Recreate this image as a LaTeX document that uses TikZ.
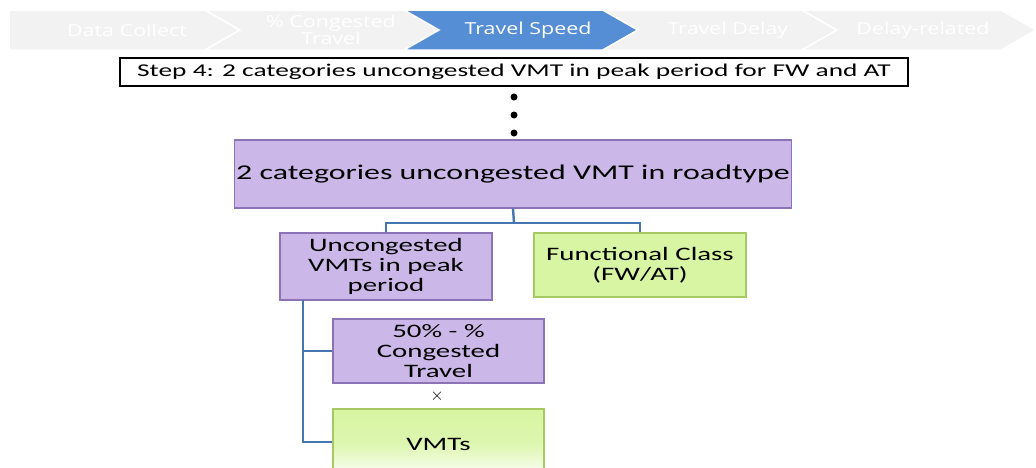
\documentclass[tikz,border=0pt]{standalone}
\usepackage{fontspec}
\setmainfont{Carlito}[FakeStretch=1.52]
\newfontfamily\chevfont{Open Sans}[FakeStretch=1.3]
\definecolor{chevgray}{HTML}{F2F2F2}
\definecolor{chevblue}{HTML}{558ED5}
\definecolor{purfill}{RGB}{203,184,232}
\definecolor{purline}{RGB}{139,115,181}
\definecolor{grnfill}{RGB}{215,245,162}
\definecolor{grnline}{RGB}{166,201,100}
\definecolor{conn}{RGB}{70,118,178}
\tikzset{
  chevtext/.style={font=\chevfont\fontsize{16.5}{17}\selectfont, text=white, align=center, inner sep=0pt},
  chevshape/.style={draw=white, line width=1.5pt, line join=miter},
  boxfont/.style={font=\fontsize{19}{20}\selectfont},
  purbox/.style={draw=purline, line width=1.2pt, fill=purfill, align=center, inner sep=2pt, boxfont},
  grnbox/.style={draw=grnline, line width=1.2pt, fill=grnfill, align=center, inner sep=2pt, boxfont},
  conline/.style={draw=conn, line width=2.4pt},
  dotnode/.style={circle, fill=black, inner sep=0pt, minimum size=7pt},
}
\begin{document}
\begin{tikzpicture}[x=1pt,y=-1pt]
\clip (0,0) rectangle (1036,467);
\fill[white] (0,0) rectangle (1036,467);
% chevrons
\path[chevshape, fill=chevgray] (9,10) -- (205,10) -- (240,30) -- (205,50) -- (9,50) -- cycle;
\path[chevshape, fill=chevgray] (205,10) -- (404,10) -- (439,30) -- (404,50) -- (205,50) -- (240,30) -- cycle;
\path[chevshape, fill=chevblue] (404,10) -- (603,10) -- (638,30) -- (603,50) -- (404,50) -- (439,30) -- cycle;
\path[chevshape, fill=chevgray] (603,10) -- (802,10) -- (837,30) -- (802,50) -- (603,50) -- (638,30) -- cycle;
\path[chevshape, fill=chevgray] (802,10) -- (1001,10) -- (1036,30) -- (1001,50) -- (802,50) -- (837,30) -- cycle;
\node[chevtext] (c1) at (127,30) {Data Collect};
\node[chevtext] (c2) at (331,30) {\% Congested\\Travel};
\node[chevtext] (c3) at (528,30) {Travel Speed};
\node[chevtext] (c4) at (728,30) {Travel Delay};
\node[chevtext] (c5) at (923,30) {Delay-related};
% step box
\node[draw=black, line width=1.6pt, fill=white, minimum width=788pt, minimum height=28pt, inner sep=0pt,
      font=\fontsize{18}{20}\selectfont] (step) at (514,72) {Step 4: 2 categories uncongested VMT in peak period for FW and AT};
% dots
\node[dotnode] (d1) at (514,97) {};
\node[dotnode] (d2) at (514,115) {};
\node[dotnode] (d3) at (514,133) {};
% main box
\node[purbox, minimum width=554pt, minimum height=68pt, font=\fontsize{21}{24}\selectfont] (main) at (513,174) {2 categories uncongested VMT in roadtype};
% second level
\node[purbox, minimum width=212pt, minimum height=67pt] (left) at (386,266.5) {Uncongested\\VMTs in peak\\period};
\node[grnbox, minimum width=212pt, minimum height=64pt] (right) at (640,265) {Functional Class\\(FW/AT)};
% third level
\node[purbox, minimum width=211pt, minimum height=64pt] (pct) at (438.5,351) {50\% - \%\\Congested\\Travel};
\node[font=\fontsize{16}{16}\selectfont, inner sep=0pt] (times) at (437,396) {$\times$};
\node[draw=grnline, line width=1.2pt, top color=grnfill, bottom color=white, middle color=grnfill!85!white,
      minimum width=211pt, minimum height=70pt, align=center, boxfont] (vmt) at (438.5,444) {VMTs};
% connectors
\coordinate (j) at (514,223);
\draw[conline] (main.south) -- (j);
\draw[conline] (left.north) |- (j) -| (right.north);
\coordinate (vtop) at (303,300);
\draw[conline] (vtop) |- (pct.west);
\draw[conline] (vtop) |- (vmt.west |- 0,442);
\end{tikzpicture}
\end{document}
